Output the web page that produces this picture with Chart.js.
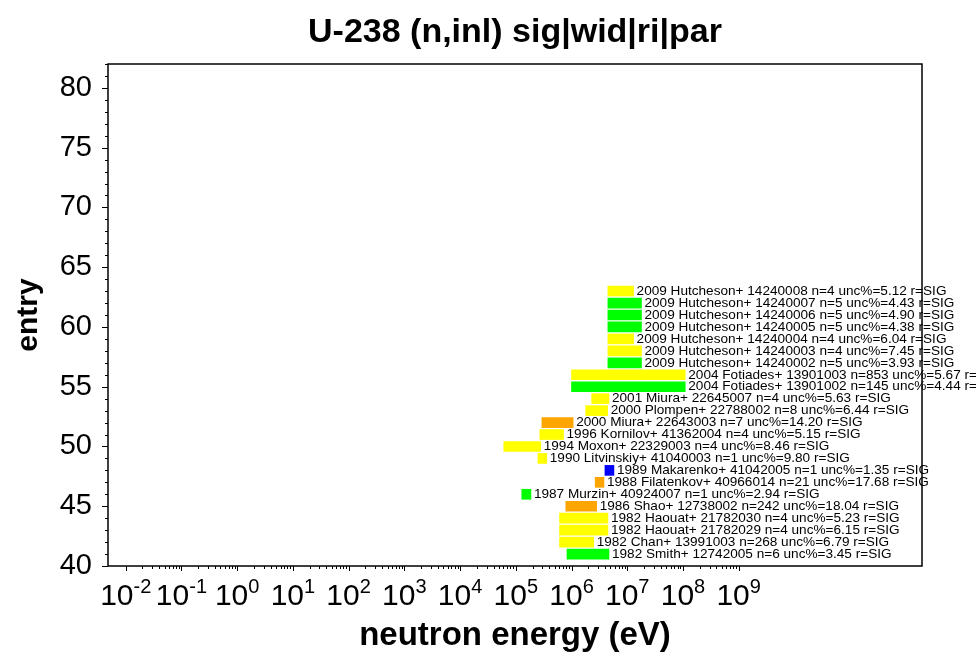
<!DOCTYPE html>
<html>
<head>
<meta charset="utf-8">
<title>U-238 (n,inl) sig|wid|ri|par</title>
<script src="https://cdn.jsdelivr.net/npm/chart.js@4.4.1/dist/chart.umd.min.js"></script>
<style>
  html, body { margin: 0; padding: 0; background: #fff; }
</style>
</head>
<body>
<canvas id="myChart" width="976" height="661"></canvas>
<script>
// Data sets, one row per entry (bottom to top)
const entries = [41, 42, 43, 44, 45, 46, 47, 48, 49, 50, 51, 52, 53, 54, 55, 56, 57, 58, 59, 60, 61, 62, 63];
const years = [1982, 1982, 1982, 1982, 1986, 1987, 1988, 1989, 1990, 1994, 1996, 2000, 2000, 2001, 2004, 2004, 2009, 2009, 2009, 2009, 2009, 2009, 2009];
const authors = ['Smith', 'Chan', 'Haouat', 'Haouat', 'Shao', 'Murzin', 'Filatenkov', 'Makarenko', 'Litvinskiy', 'Moxon',
  'Kornilov', 'Miura', 'Plompen', 'Miura', 'Fotiades', 'Fotiades', 'Hutcheson', 'Hutcheson', 'Hutcheson', 'Hutcheson',
  'Hutcheson', 'Hutcheson', 'Hutcheson'];
const subents = ['12742005', '13991003', '21782029', '21782030', '12738002', '40924007', '40966014', '41042005', '41040003', '22329003',
  '41362004', '22643003', '22788002', '22645007', '13901002', '13901003', '14240002', '14240003', '14240004', '14240005',
  '14240006', '14240007', '14240008'];
const nPoints = [6, 268, 4, 4, 242, 1, 21, 1, 1, 4, 4, 7, 8, 4, 145, 853, 5, 4, 4, 5, 5, 5, 4];
const uncPct = [3.45, 6.79, 6.15, 5.23, 18.04, 2.94, 17.68, 1.35, 9.80, 8.46, 5.15, 14.20, 6.44, 5.63, 4.44, 5.67, 3.93, 7.45, 6.04, 4.38, 4.90, 4.43, 5.12];
// energy range covered by each set (eV)
const eLow = [8.3e5, 6.1e5, 6.1e5, 6.1e5, 7.9e5, 1.28e5, 2.66e6, 3.98e6, 2.5e5, 6.1e4, 2.7e5, 2.94e5, 1.8e6, 2.3e6, 1.0e6, 1.0e6,
  4.5e6, 4.5e6, 4.5e6, 4.5e6, 4.5e6, 4.5e6, 4.5e6];
const eHigh = [4.7e6, 2.5e6, 4.5e6, 4.5e6, 2.83e6, 1.87e5, 3.82e6, 5.77e6, 3.6e5, 2.8e5, 7.2e5, 1.07e6, 4.45e6, 4.7e6, 1.1e8, 1.1e8,
  1.8e7, 1.8e7, 1.3e7, 1.8e7, 1.8e7, 1.8e7, 1.3e7];
// axis ticks
const xDecades = [-2, -1, 0, 1, 2, 3, 4, 5, 6, 7, 8, 9];
const yRange = [40, 82];

const FONT = '"Liberation Sans", Arial, Helvetica, sans-serif';

function uncColor(u) {
  if (u < 2) return '#0000ff';
  if (u < 5) return '#00ff00';
  if (u < 10) return '#ffff00';
  return '#ffa500';
}

function setLabel(i) {
  return years[i] + ' ' + authors[i] + '+ ' + subents[i] + ' n=' + nPoints[i] +
    ' unc%=' + uncPct[i].toFixed(2) + ' r=SIG';
}

// labels next to the bars, frame, tick marks and 10^n tick labels
const decorations = {
  id: 'decorations',
  afterDatasetsDraw(chart) {
    const ctx = chart.ctx;
    const meta = chart.getDatasetMeta(0);
    ctx.save();
    ctx.font = '13.6px ' + FONT;
    ctx.fillStyle = '#000';
    ctx.textAlign = 'left';
    ctx.textBaseline = 'middle';
    meta.data.forEach((bar, i) => {
      ctx.fillText(setLabel(i), Math.max(bar.x, bar.base) + 3, bar.y);
    });
    ctx.restore();
  },
  afterDraw(chart) {
    const { ctx, chartArea: a, scales: { x, y } } = chart;
    ctx.save();
    ctx.strokeStyle = '#000';
    ctx.lineWidth = 1.5;
    ctx.strokeRect(a.left, a.top, a.right - a.left, a.bottom - a.top);

    ctx.lineWidth = 1;
    ctx.beginPath();
    for (let v = yRange[0]; v <= yRange[1]; v++) {
      const py = Math.round(y.getPixelForValue(v)) + 0.5;
      const len = v % 5 === 0 ? 6 : 3;
      ctx.moveTo(a.left - len, py);
      ctx.lineTo(a.left, py);
    }
    xDecades.forEach((d, k) => {
      for (let m = 1; m <= 9; m++) {
        if (m > 1 && k === xDecades.length - 1) break;
        const px = Math.round(x.getPixelForValue(m * Math.pow(10, d))) + 0.5;
        const len = m === 1 ? 5 : 3;
        ctx.moveTo(px, a.bottom);
        ctx.lineTo(px, a.bottom + len);
      }
    });
    ctx.stroke();

    const baseFont = '30px ' + FONT;
    const expFont = '20px ' + FONT;
    ctx.fillStyle = '#000';
    ctx.textAlign = 'left';
    ctx.textBaseline = 'alphabetic';
    xDecades.forEach(d => {
      const px = x.getPixelForValue(Math.pow(10, d));
      ctx.font = baseFont;
      const wb = ctx.measureText('10').width;
      ctx.font = expFont;
      const we = ctx.measureText(String(d)).width;
      const x0 = px - (wb + we) / 2;
      ctx.font = baseFont;
      ctx.fillText('10', x0, a.bottom + 39);
      ctx.font = expFont;
      ctx.fillText(String(d), x0 + wb, a.bottom + 27);
    });
    ctx.restore();
  }
};

Chart.defaults.color = '#000';
Chart.defaults.font.family = FONT;

const ctx = document.getElementById('myChart').getContext('2d');
const myChart = new Chart(ctx, {
  type: 'bar',
  data: {
    datasets: [{
      data: entries.map((e, i) => ({ y: e, x: [eLow[i], eHigh[i]] })),
      backgroundColor: uncPct.map(uncColor),
      borderWidth: 0,
      barThickness: 10
    }]
  },
  options: {
    indexAxis: 'y',
    responsive: false,
    animation: false,
    events: [],
    layout: { padding: { left: 0, right: 54, top: 0, bottom: 0 } },
    plugins: {
      legend: { display: false },
      tooltip: { enabled: false },
      title: {
        display: true,
        fullSize: false,
        text: 'U-238 (n,inl) sig|wid|ri|par',
        color: '#000',
        font: { size: 34, weight: 'bold' },
        padding: { top: 12, bottom: 11.2 }
      }
    },
    scales: {
      x: {
        type: 'logarithmic',
        min: Math.pow(10, -2.318),
        max: Math.pow(10, 12.29),
        ticks: { display: false },
        grid: { display: false, drawTicks: false },
        border: { display: false },
        title: {
          display: true,
          text: 'neutron energy (eV)',
          font: { size: 33, weight: 'bold' },
          padding: { top: 0, bottom: 5 }
        },
        afterFit(s) { s.height = 95; s.paddingLeft = 0; s.paddingRight = 0; }
      },
      y: {
        type: 'linear',
        min: yRange[0],
        max: yRange[1],
        offset: false,
        ticks: {
          stepSize: 5,
          includeBounds: false,
          autoSkip: false,
          padding: 16,
          font: { size: 29 },
          callback: v => (v % 5 === 0 ? v : '')
        },
        grid: { display: false, drawTicks: false, offset: false },
        border: { display: false },
        title: {
          display: true,
          text: 'entry',
          font: { size: 30, weight: 'bold' },
          padding: { top: 11, bottom: 0 }
        },
        afterFit(s) { s.width = 108; s.paddingTop = 0; s.paddingBottom = 0; }
      }
    }
  },
  plugins: [decorations]
});
</script>
</body>
</html>
